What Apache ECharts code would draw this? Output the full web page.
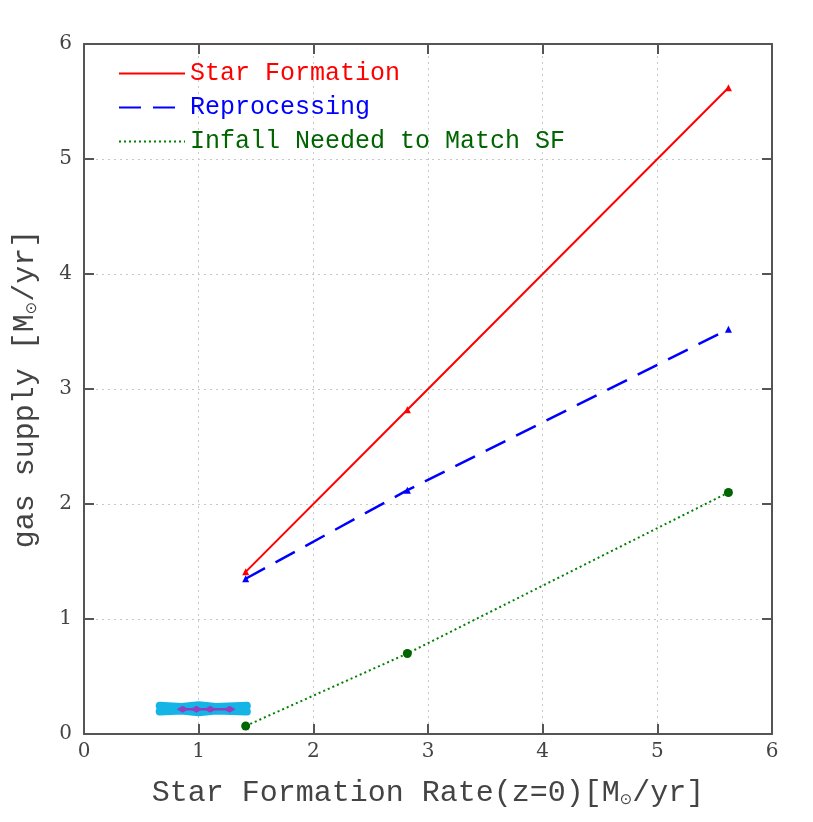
<!DOCTYPE html>
<html>
<head>
<meta charset="utf-8">
<script src="https://cdn.jsdelivr.net/npm/echarts@6/dist/echarts.min.js"></script>
<style>html,body{margin:0;padding:0;background:#fff}#c{width:813px;height:822px}</style>
</head>
<body>
<div id="c"></div>
<script>
const sfrX = [1.41, 2.82, 5.62];
const starFormation = [1.41, 2.82, 5.62];
const reprocessing = [1.35, 2.12, 3.52];
const infall = [0.07, 0.70, 2.10];
const cyanMarkX = [0.66, 0.85, 1.0, 1.15, 1.42];
const cyanMarkYTop = [0.245, 0.235, 0.25, 0.235, 0.245];
const cyanMarkYBot = [0.195, 0.205, 0.19, 0.205, 0.195];
const purpleMarkX = [0.86, 0.98, 1.1, 1.27];
const purpleMarkY = [0.215, 0.215, 0.215, 0.215];
const xTicks = [0, 1, 2, 3, 4, 5, 6];
const yTicks = [0, 1, 2, 3, 4, 5, 6];
const names = ['Star Formation', 'Reprocessing', 'Infall Needed to Match SF'];
const colors = ['#ff0000', '#0000ff', '#006400'];

const pair = (xs, ys) => xs.map((x, i) => [x, ys[i]]);
const chart = echarts.init(document.getElementById('c'), null, {renderer: 'canvas'});
const labelFont = '"DejaVu Serif", "Liberation Serif", serif';
const axisCommon = {
  type: 'value', min: 0, max: 6, interval: 1,
  axisLine: {show: true, onZero: false, lineStyle: {color: '#555', width: 2}},
  axisTick: {show: true, inside: true, length: 10, lineStyle: {color: '#555', width: 2}},
  minorTick: {show: false}
};
const titleRich = {
  a: {fontFamily: '"Liberation Mono", monospace', fontSize: 30, color: '#444'},
  s: {fontFamily: '"DejaVu Sans", sans-serif', fontSize: 15, color: '#444', padding: [14, 0, 0, 0]}
};
chart.setOption({
  animation: false,
  backgroundColor: '#fff',
  grid: {left: 84, right: 41, top: 44, bottom: 88, containLabel: false},
  legend: {
    orient: 'vertical', left: 113, top: 56, itemGap: 9,
    itemWidth: 66, itemHeight: 14,
    itemStyle: {opacity: 0},
    data: names.map((n, i) => ({name: n, textStyle: {color: colors[i]}})),
    textStyle: {fontFamily: '"Liberation Mono", monospace', fontSize: 25}
  },
  xAxis: [
    Object.assign({}, axisCommon, {
      position: 'bottom',
      name: '{a|Star Formation Rate(z=0)[M}{s|⊙}{a|/yr]}',
      nameLocation: 'middle', nameGap: 44,
      nameTextStyle: {rich: titleRich},
      axisLabel: {color: '#444', fontSize: 20, fontFamily: labelFont, margin: 8},
      splitLine: {show: true, lineStyle: {color: '#c8c8c8', type: [2, 4], width: 1}}
    }),
    Object.assign({}, axisCommon, {
      position: 'top', axisLabel: {show: false}, splitLine: {show: false}
    })
  ],
  yAxis: [
    Object.assign({}, axisCommon, {
      position: 'left',
      name: '{a|gas supply [M}{s|⊙}{a|/yr]}',
      nameLocation: 'middle', nameGap: 44, nameRotate: 90,
      nameTextStyle: {rich: titleRich},
      axisLabel: {color: '#444', fontSize: 20, fontFamily: labelFont, margin: 12},
      splitLine: {show: true, lineStyle: {color: '#c8c8c8', type: [2, 4], width: 1}}
    }),
    Object.assign({}, axisCommon, {
      position: 'right', axisLabel: {show: false}, splitLine: {show: false}
    })
  ],
  series: [
    {
      name: names[0], type: 'line', data: pair(sfrX, starFormation),
      color: colors[0],
      lineStyle: {color: '#ff0000', width: 2, type: 'solid'},
      symbol: 'triangle', symbolSize: 7, itemStyle: {color: '#ff0000'}, z: 5
    },
    {
      name: names[1], type: 'line', data: pair(sfrX, reprocessing),
      color: colors[1],
      lineStyle: {color: '#0000ff', width: 2.5, type: [22, 12]},
      symbol: 'triangle', symbolSize: 7, itemStyle: {color: '#0000ff'}, z: 5
    },
    {
      name: names[2], type: 'line', data: pair(sfrX, infall),
      color: colors[2],
      lineStyle: {color: '#008000', width: 2, type: [2, 3]},
      symbol: 'circle', symbolSize: 9, itemStyle: {color: '#006400'}, z: 5
    },
    {
      name: 'cyanTop', type: 'line', data: pair(cyanMarkX, cyanMarkYTop),
      lineStyle: {color: '#14b4e6', width: 8, cap: 'round', join: 'round'}, symbol: 'none', z: 3, silent: true
    },
    {
      name: 'cyanBot', type: 'line', data: pair(cyanMarkX, cyanMarkYBot),
      lineStyle: {color: '#14b4e6', width: 8, cap: 'round', join: 'round'}, symbol: 'none', z: 3, silent: true
    },
    {
      name: 'purple', type: 'line', data: pair(purpleMarkX, purpleMarkY),
      lineStyle: {color: '#9040c0', width: 2.5}, symbol: 'diamond', symbolSize: [12, 7],
      showSymbol: true, itemStyle: {color: '#9040c0'}, z: 4, silent: true
    }
  ]
});
</script>
</body>
</html>
